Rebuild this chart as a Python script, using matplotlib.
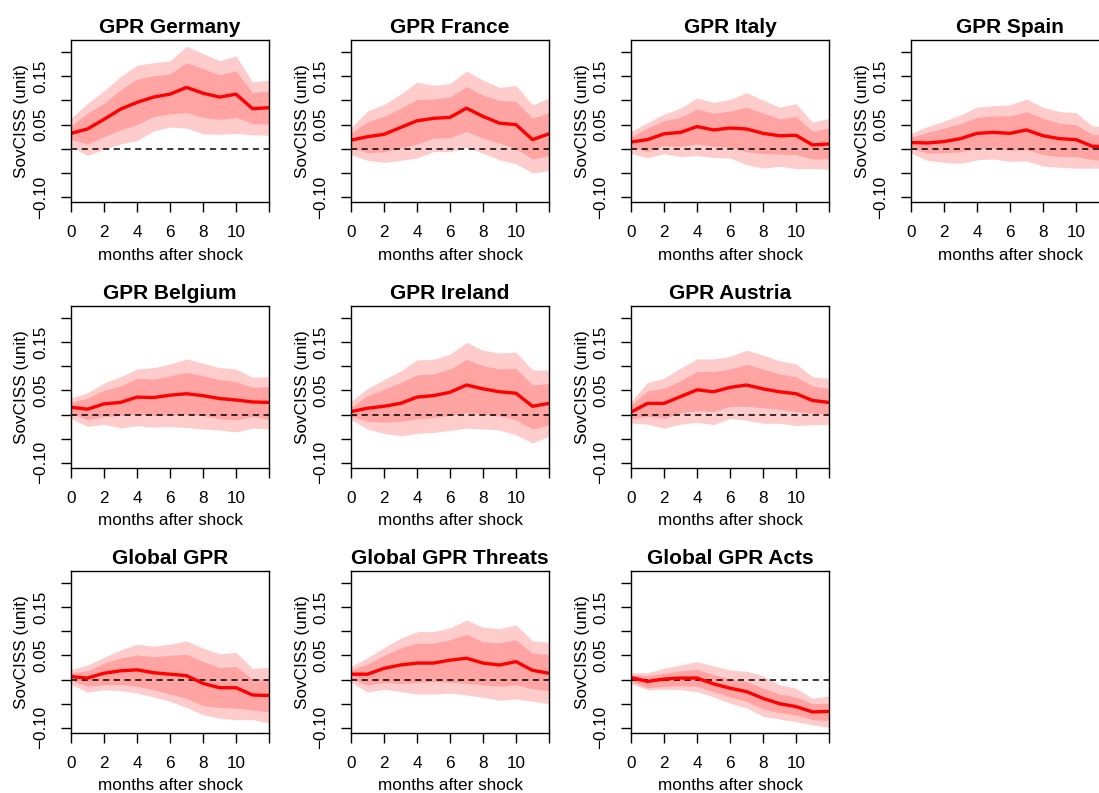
import numpy as np
import matplotlib
matplotlib.use('Agg')
import matplotlib.pyplot as plt

plt.rcParams['font.family'] = ['Liberation Sans', 'DejaVu Sans']

months = np.arange(13)

titles = ['GPR Germany', 'GPR France', 'GPR Italy', 'GPR Spain',
          'GPR Belgium', 'GPR Ireland', 'GPR Austria',
          'Global GPR', 'Global GPR Threats', 'Global GPR Acts']

# impulse responses (median) and the 68% / 90% bands
irf = [
    [0.032, 0.041, 0.061, 0.082, 0.096, 0.107, 0.113, 0.127, 0.115, 0.107, 0.113, 0.083, 0.085],
    [0.018, 0.025, 0.030, 0.044, 0.058, 0.063, 0.065, 0.084, 0.067, 0.053, 0.050, 0.019, 0.031],
    [0.014, 0.019, 0.031, 0.034, 0.046, 0.039, 0.043, 0.041, 0.032, 0.027, 0.028, 0.008, 0.010],
    [0.013, 0.012, 0.015, 0.021, 0.032, 0.034, 0.032, 0.039, 0.027, 0.021, 0.019, 0.005, 0.005],
    [0.015, 0.011, 0.022, 0.025, 0.036, 0.035, 0.040, 0.043, 0.039, 0.033, 0.030, 0.026, 0.025],
    [0.006, 0.013, 0.017, 0.023, 0.036, 0.039, 0.046, 0.061, 0.053, 0.047, 0.044, 0.017, 0.023],
    [0.005, 0.023, 0.023, 0.037, 0.051, 0.047, 0.056, 0.061, 0.053, 0.047, 0.043, 0.029, 0.025],
    [0.006, 0.003, 0.013, 0.018, 0.020, 0.014, 0.011, 0.008, -0.008, -0.017, -0.017, -0.032, -0.033],
    [0.011, 0.011, 0.023, 0.030, 0.034, 0.034, 0.040, 0.044, 0.034, 0.030, 0.037, 0.019, 0.013],
    [0.004, -0.004, 0.001, 0.003, 0.003, -0.009, -0.018, -0.025, -0.039, -0.050, -0.056, -0.067, -0.066],
]
upper90 = [
    [0.063, 0.094, 0.120, 0.149, 0.173, 0.178, 0.182, 0.212, 0.197, 0.182, 0.192, 0.138, 0.142],
    [0.044, 0.078, 0.092, 0.113, 0.138, 0.131, 0.135, 0.161, 0.142, 0.127, 0.131, 0.091, 0.105],
    [0.036, 0.054, 0.072, 0.084, 0.105, 0.096, 0.102, 0.116, 0.101, 0.086, 0.093, 0.055, 0.063],
    [0.032, 0.046, 0.057, 0.070, 0.086, 0.089, 0.091, 0.103, 0.086, 0.077, 0.075, 0.047, 0.047],
    [0.034, 0.045, 0.065, 0.078, 0.094, 0.097, 0.104, 0.115, 0.106, 0.097, 0.094, 0.077, 0.078],
    [0.027, 0.054, 0.072, 0.090, 0.113, 0.114, 0.125, 0.149, 0.133, 0.127, 0.129, 0.092, 0.092],
    [0.027, 0.066, 0.075, 0.096, 0.115, 0.115, 0.120, 0.133, 0.123, 0.111, 0.105, 0.078, 0.075],
    [0.020, 0.030, 0.046, 0.061, 0.073, 0.069, 0.073, 0.080, 0.065, 0.053, 0.056, 0.023, 0.025],
    [0.027, 0.045, 0.066, 0.085, 0.099, 0.099, 0.107, 0.123, 0.108, 0.105, 0.113, 0.080, 0.077],
    [0.014, 0.014, 0.023, 0.030, 0.037, 0.028, 0.020, 0.017, 0.008, -0.011, -0.018, -0.039, -0.034],
]
upper68 = [
    [0.047, 0.074, 0.094, 0.122, 0.144, 0.151, 0.155, 0.178, 0.166, 0.153, 0.161, 0.116, 0.120],
    [0.032, 0.056, 0.067, 0.084, 0.102, 0.103, 0.107, 0.129, 0.111, 0.100, 0.098, 0.063, 0.075],
    [0.025, 0.043, 0.058, 0.065, 0.082, 0.074, 0.078, 0.086, 0.074, 0.062, 0.067, 0.036, 0.043],
    [0.024, 0.034, 0.043, 0.052, 0.065, 0.068, 0.068, 0.077, 0.063, 0.053, 0.050, 0.029, 0.029],
    [0.025, 0.034, 0.050, 0.059, 0.075, 0.073, 0.080, 0.087, 0.080, 0.072, 0.068, 0.056, 0.058],
    [0.015, 0.039, 0.052, 0.066, 0.082, 0.084, 0.094, 0.114, 0.101, 0.094, 0.095, 0.061, 0.064],
    [0.020, 0.049, 0.054, 0.070, 0.089, 0.089, 0.094, 0.104, 0.094, 0.084, 0.078, 0.059, 0.054],
    [0.014, 0.018, 0.034, 0.044, 0.051, 0.047, 0.050, 0.052, 0.037, 0.025, 0.027, 0.001, 0.001],
    [0.020, 0.032, 0.050, 0.065, 0.075, 0.075, 0.082, 0.094, 0.078, 0.076, 0.082, 0.054, 0.052],
    [0.010, 0.008, 0.013, 0.018, 0.021, 0.010, 0.001, -0.004, -0.018, -0.030, -0.036, -0.050, -0.049],
]
lower68 = [
    [0.019, 0.010, 0.025, 0.039, 0.050, 0.067, 0.072, 0.075, 0.065, 0.061, 0.065, 0.052, 0.051],
    [0.001, -0.008, -0.006, 0.001, 0.010, 0.022, 0.023, 0.036, 0.022, 0.012, 0.001, -0.021, -0.014],
    [0.003, -0.006, 0.007, 0.005, 0.010, 0.005, 0.003, -0.006, -0.010, -0.011, -0.012, -0.021, -0.021],
    [0.001, -0.009, -0.008, -0.006, 0.000, 0.001, -0.003, -0.002, -0.012, -0.016, -0.016, -0.023, -0.023],
    [0.003, -0.011, -0.004, -0.002, 0.001, -0.002, -0.001, 0.000, -0.002, -0.009, -0.011, -0.004, -0.010],
    [-0.004, -0.014, -0.016, -0.014, -0.009, -0.006, -0.002, 0.004, 0.000, -0.003, -0.011, -0.030, -0.021],
    [-0.009, -0.004, -0.008, 0.003, 0.008, 0.006, 0.017, 0.017, 0.014, 0.011, 0.006, 0.003, 0.001],
    [-0.001, -0.014, -0.011, -0.010, -0.014, -0.021, -0.030, -0.039, -0.054, -0.058, -0.059, -0.063, -0.067],
    [0.001, -0.011, -0.006, -0.008, -0.006, -0.004, -0.006, -0.008, -0.011, -0.014, -0.011, -0.019, -0.023],
    [-0.004, -0.017, -0.014, -0.013, -0.014, -0.025, -0.036, -0.045, -0.061, -0.069, -0.073, -0.083, -0.085],
]
lower90 = [
    [0.005, -0.014, -0.001, 0.010, 0.017, 0.037, 0.045, 0.043, 0.031, 0.030, 0.032, 0.029, 0.028],
    [-0.012, -0.024, -0.028, -0.024, -0.019, -0.006, -0.006, 0.003, -0.009, -0.023, -0.031, -0.050, -0.045],
    [-0.009, -0.019, -0.010, -0.016, -0.014, -0.018, -0.019, -0.033, -0.040, -0.036, -0.041, -0.041, -0.042],
    [-0.009, -0.024, -0.028, -0.030, -0.023, -0.021, -0.026, -0.025, -0.036, -0.038, -0.040, -0.040, -0.040],
    [-0.008, -0.025, -0.020, -0.028, -0.023, -0.026, -0.025, -0.027, -0.030, -0.032, -0.036, -0.028, -0.030],
    [-0.011, -0.030, -0.039, -0.044, -0.039, -0.037, -0.033, -0.028, -0.030, -0.032, -0.042, -0.059, -0.045],
    [-0.018, -0.020, -0.028, -0.020, -0.016, -0.021, -0.008, -0.012, -0.018, -0.018, -0.023, -0.021, -0.021],
    [-0.010, -0.026, -0.021, -0.023, -0.028, -0.036, -0.045, -0.058, -0.073, -0.080, -0.083, -0.083, -0.090],
    [-0.006, -0.026, -0.020, -0.025, -0.030, -0.030, -0.028, -0.032, -0.037, -0.043, -0.040, -0.045, -0.050],
    [-0.009, -0.021, -0.020, -0.021, -0.025, -0.036, -0.049, -0.059, -0.076, -0.082, -0.087, -0.094, -0.099],
]

yticks = [-0.10, -0.05, 0.0, 0.05, 0.10, 0.15, 0.20]
ytick_labels = ['\u22120.10', '', '', '0.05', '', '0.15', '']
xticks = [0, 2, 4, 6, 8, 10, 12]
xtick_labels = ['0', '2', '4', '6', '8', '10', '']

W, H = 1099, 793
fig = plt.figure(figsize=(W / 100, H / 100), dpi=100)

# panel boxes in pixels (left, top), every box is 198 x 162
col_left = [71, 351, 631, 911]
row_top = [40, 305.7, 570.7]
bw, bh = 198, 162
slots = [(0, 0), (0, 1), (0, 2), (0, 3),
         (1, 0), (1, 1), (1, 2),
         (2, 0), (2, 1), (2, 2)]

for k, (r, c) in enumerate(slots):
    left = col_left[c]
    top = row_top[r]
    ax = fig.add_axes([left / W, (H - top - bh) / H, bw / W, bh / H])

    ax.fill_between(months, lower90[k], upper90[k], color='#FFCCCC', lw=0)
    ax.fill_between(months, lower68[k], upper68[k], color='#FFA3A3', lw=0)
    ax.axhline(0, color='black', lw=1.1, ls=(0, (4, 3)))
    ax.plot(months, irf[k], color='red', lw=2.4)

    ax.set_xlim(0, 12)
    ax.set_ylim(-0.11, 0.225)
    ax.set_xticks(xticks)
    ax.set_xticklabels(xtick_labels)
    ax.set_yticks(yticks)
    ax.set_yticklabels(ytick_labels, rotation=90, va='center')
    ax.tick_params(direction='out', length=7, width=1, labelsize=12.3, pad=9.5)

    for s in ax.spines.values():
        s.set_linewidth(1)

    ax.set_title(titles[k], fontsize=15, fontweight='bold', pad=5)
    ax.set_xlabel('months after shock', fontsize=12.3, va='center')
    ax.xaxis.set_label_coords(0.5, -53 / bh)
    ax.set_ylabel('SovCISS (unit)', fontsize=12.3, va='center')
    ax.yaxis.set_label_coords(-49 / bw, 0.5)

fig.savefig('out.png', dpi=100)
